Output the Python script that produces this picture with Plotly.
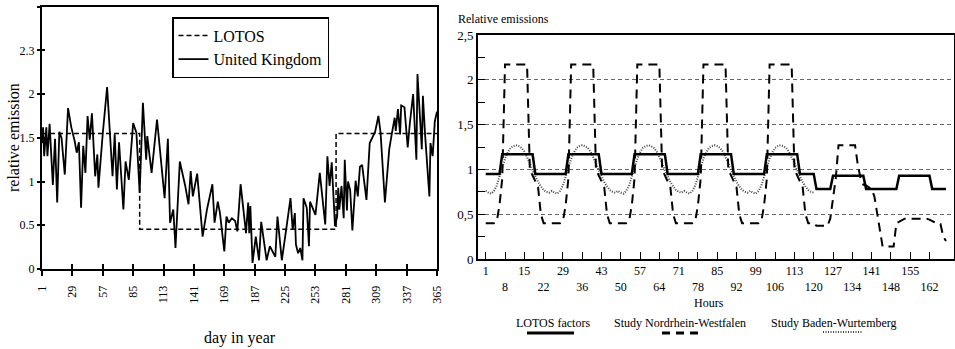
import plotly.graph_objects as go

W, H = 955, 349


def px(x):
    return x / W


def py(y):
    return 1 - y / H


SERIF = "Liberation Serif, Times New Roman, serif"

# ---------------- Left chart: day in year ----------------
uk_days = [1, 2, 3, 5, 6, 8, 11, 13, 15, 17, 19, 22, 25, 28, 31, 33, 35, 37, 39, 41,
           43, 45, 47, 50, 52, 53, 57, 61, 66, 68, 70, 72, 76, 78, 81, 85, 88, 91, 94, 97,
           98, 102, 107, 114, 117, 119, 122, 124, 128, 133, 136, 138, 140, 144, 149, 153, 158, 160, 163, 165,
           169, 171, 173, 176, 179, 181, 184, 189, 191, 192, 193, 195, 198, 201, 203, 208, 211, 216, 218, 222,
           226, 230, 232, 234, 235, 237, 239, 241, 242, 245, 247, 248, 253, 257, 262, 264, 266, 268, 271, 273,
           274, 275, 277, 279, 280, 282, 283, 285, 287, 290, 292, 294, 296, 300, 303, 308, 311, 313, 317, 321,
           323, 326, 327, 329, 331, 332, 335, 338, 340, 343, 346, 347, 351, 352, 354, 358, 359, 361, 363, 365]
uk_vals = [1.44, 1.62, 1.29, 1.62, 1.29, 1.66, 0.96, 1.49, 0.76, 1.57, 1.50, 1.08, 1.84, 1.62, 1.47, 1.33, 1.45, 0.70, 1.41, 1.10,
           1.75, 1.48, 1.78, 1.06, 1.31, 0.93, 1.55, 2.08, 1.06, 1.54, 0.91, 1.45, 0.68, 1.23, 1.02, 1.67, 1.56, 0.87, 1.90, 1.25,
           1.52, 1.10, 1.71, 0.81, 1.49, 0.53, 0.68, 0.24, 1.23, 0.95, 0.74, 1.12, 0.83, 1.09, 0.37, 0.68, 0.97, 0.53, 0.77, 0.64,
           0.20, 0.60, 0.53, 0.58, 0.55, 0.43, 0.97, 0.41, 0.76, 0.41, 0.72, 0.07, 0.37, 0.10, 0.54, 0.10, 0.26, 0.14, 0.60, 0.10,
           0.45, 0.81, 0.45, 0.64, 0.28, 0.18, 0.24, 0.10, 0.81, 0.70, 0.26, 0.77, 0.62, 1.10, 0.51, 1.29, 0.95, 1.22, 0.49, 0.60,
           0.93, 0.68, 0.95, 0.58, 1.25, 0.67, 1.00, 0.90, 0.44, 1.01, 0.83, 1.17, 1.19, 0.79, 1.44, 1.57, 1.75, 1.56, 0.76, 1.37,
           1.52, 1.73, 1.58, 1.83, 1.54, 1.87, 1.85, 1.39, 1.67, 2.00, 1.25, 2.23, 1.37, 1.98, 1.54, 0.83, 1.44, 1.29, 1.69, 1.80]

lotos_days = [1, 91, 272, 365]
lotos_vals = [1.55, 0.455, 1.55, 1.55]

day_ticks = [1, 29, 57, 85, 113, 141, 169, 187, 225, 253, 281, 309, 337, 365]
day_tick_pos = [1, 29, 57, 85, 113, 141, 169, 197, 225, 253, 281, 309, 337, 365]
rel_ticks = [0, 0.5, 1, 1.5, 2, 2.5, 3]
rel_labels = ["0", "0.5", "1", "1.5", "2", "2.3", "3"]

# ---------------- Right chart: hours of a week ----------------
hours = list(range(1, 169))

lotos_weekday = [0.95, 0.95, 0.95, 0.95, 0.95, 0.95, 1.17, 1.17, 1.17, 1.17, 1.17, 1.17,
                 1.17, 1.17, 1.17, 1.17, 1.17, 1.17, 0.95, 0.95, 0.95, 0.95, 0.95, 0.95]
lotos_weekend = [0.78, 0.78, 0.78, 0.78, 0.78, 0.78, 0.93, 0.93, 0.93, 0.93, 0.93, 0.93,
                 0.93, 0.93, 0.93, 0.93, 0.93, 0.93, 0.78, 0.78, 0.78, 0.78, 0.78, 0.78]

nrw_weekday = [0.40, 0.40, 0.40, 0.40, 0.42, 0.60, 0.90, 2.17, 2.17, 2.17, 2.17, 2.17,
               2.17, 2.17, 2.17, 2.17, 1.00, 0.93, 0.88, 0.80, 0.50, 0.40, 0.40, 0.40]
nrw_saturday = [0.37, 0.37, 0.37, 0.37, 0.37, 0.45, 0.70, 0.90, 1.27, 1.27, 1.27, 1.27,
                1.27, 1.27, 1.27, 1.05, 0.90, 0.83, 0.82, 0.80, 0.78, 0.70, 0.52, 0.30]
nrw_sunday = [0.14, 0.14, 0.14, 0.14, 0.14, 0.40, 0.42, 0.44, 0.45, 0.45, 0.45, 0.45,
              0.45, 0.45, 0.45, 0.45, 0.45, 0.44, 0.42, 0.40, 0.39, 0.39, 0.25, 0.20]

bw_weekday = [0.76, 0.74, 0.73, 0.76, 0.82, 0.92, 1.03, 1.12, 1.19, 1.24, 1.26, 1.27,
              1.26, 1.24, 1.20, 1.14, 1.07, 0.99, 0.92, 0.86, 0.81, 0.77, 0.75, 0.74]

lotos_week = lotos_weekday * 5 + lotos_weekend * 2
nrw_week = nrw_weekday * 5 + nrw_saturday + nrw_sunday
bw_week = bw_weekday * 5
bw_hours = hours[:len(bw_week)]

hour_ticks = list(range(1, 168, 7))
hour_labels = [str(h) if i % 2 == 0 else "<br>" + str(h) for i, h in enumerate(hour_ticks)]
emis_ticks = [0, 0.5, 1, 1.5, 2, 2.5]
emis_labels = ["0", "0,5", "1", "1,5", "2", "2,5"]

fig = go.Figure()

# left chart traces
fig.add_trace(go.Scatter(x=lotos_days, y=lotos_vals, mode="lines", name="LOTOS",
                         line=dict(color="black", width=1.5, dash="5px,3px", shape="hv"),
                         xaxis="x", yaxis="y"))
# drawn on the overlaid axes (same ranges) so the crossing inner tick marks are rendered
fig.add_trace(go.Scatter(x=uk_days, y=uk_vals, mode="lines", name="United Kingdom",
                         line=dict(color="black", width=1.8), xaxis="x3", yaxis="y3"))

# right chart traces
fig.add_trace(go.Scatter(x=bw_hours, y=bw_week, mode="lines", showlegend=False,
                         line=dict(color="#444444", width=2, dash="1px,1.5px"),
                         xaxis="x2", yaxis="y2"))
fig.add_trace(go.Scatter(x=hours, y=nrw_week, mode="lines", showlegend=False,
                         line=dict(color="black", width=2, dash="9px,6px"),
                         xaxis="x2", yaxis="y2"))
fig.add_trace(go.Scatter(x=hours, y=lotos_week, mode="lines", showlegend=False,
                         line=dict(color="black", width=2.5),
                         xaxis="x2", yaxis="y2"))

tickfont = dict(family=SERIF, size=12, color="black")

fig.update_layout(
    width=W, height=H,
    margin=dict(l=0, r=0, t=0, b=0),
    paper_bgcolor="white", plot_bgcolor="white",
    font=dict(family=SERIF, color="black"),
    xaxis=dict(domain=[px(42), px(437)], range=[1, 365], anchor="y",
               tickvals=day_tick_pos, ticktext=[str(d) for d in day_ticks],
               tickangle=-90, ticks="outside", ticklen=5, tickwidth=2, tickcolor="black",
               ticklabelstandoff=5, automargin=False,
               showline=True, linecolor="black", linewidth=2, mirror=True,
               showgrid=False, zeroline=False, tickfont=tickfont),
    yaxis=dict(domain=[py(269), py(6.7)], range=[0, 3], anchor="x",
               tickvals=rel_ticks, ticktext=rel_labels, automargin=False,
               ticks="outside", ticklen=3, tickwidth=1.5, tickcolor="black",
               showline=True, linecolor="black", linewidth=2, mirror=True,
               showgrid=False, zeroline=False, tickfont=tickfont),
    xaxis3=dict(overlaying="x", anchor="y", range=[1, 365], tickvals=day_tick_pos,
                showticklabels=False, ticks="inside", ticklen=5, tickwidth=2, tickcolor="black",
                showline=False, showgrid=False, zeroline=False, automargin=False),
    yaxis3=dict(overlaying="y", anchor="x", side="left", range=[0, 3], tickvals=rel_ticks,
                showticklabels=False, ticks="inside", ticklen=3, tickwidth=1.5, tickcolor="black",
                showline=False, showgrid=False, zeroline=False, automargin=False),
    xaxis2=dict(domain=[px(478), px(954)], range=[-1.8, 170.9], anchor="y2",
                tickvals=hour_ticks, ticktext=hour_labels, tickangle=0, automargin=False,
                ticks="inside", ticklen=7, tickwidth=1, tickcolor="black",
                showline=True, linecolor="black", linewidth=2, mirror=True,
                showgrid=False, zeroline=False, tickfont=tickfont),
    yaxis2=dict(domain=[py(259), py(35)], range=[0, 2.5], anchor="x2",
                tickvals=emis_ticks, ticktext=emis_labels, automargin=False,
                ticks="inside", ticklen=7, tickwidth=1, tickcolor="black",
                minor=dict(dtick=0.25, ticks="inside", ticklen=7, tickwidth=1,
                           tickcolor="black", showgrid=False),
                showline=True, linecolor="black", linewidth=2, mirror=True,
                showgrid=True, gridcolor="#666666", griddash="4px,3px", gridwidth=1,
                zeroline=False, tickfont=dict(family=SERIF, size=13, color="black")),
    legend=dict(x=px(172), y=py(17), xanchor="left", yanchor="top",
                bgcolor="white", bordercolor="black", borderwidth=1.5,
                font=dict(family=SERIF, size=16, color="black"),
                itemwidth=30, tracegroupgap=0),
    showlegend=True,
)


def note(text, x, y, size, angle=0, xanchor="center"):
    return dict(text=text, x=px(x), y=py(y), xref="paper", yref="paper",
                xanchor=xanchor, yanchor="middle", textangle=angle, showarrow=False,
                font=dict(family=SERIF, size=size, color="black"))


annotations = [
    note("relative emission", 13, 138, 16, angle=-90),
    note("day in year", 240, 338, 16),
    note("Relative emissions", 456, 19, 12, xanchor="left"),
    note("Hours", 709, 303, 12),
    note("LOTOS factors", 553, 323, 12),
    note("Study Nordrhein-Westfalen", 680, 323, 12),
    note("Study Baden-Wurtemberg", 834, 323, 12),
]
fig.update_layout(annotations=annotations)

shapes = [
    dict(type="line", xref="paper", yref="paper", x0=px(527), x1=px(574), y0=py(333), y1=py(333),
         line=dict(color="black", width=3)),
    dict(type="line", xref="paper", yref="paper", x0=px(662), x1=px(704), y0=py(333), y1=py(333),
         line=dict(color="black", width=3, dash="8px,6px")),
    dict(type="line", xref="paper", yref="paper", x0=px(823), x1=px(862), y0=py(332), y1=py(332),
         line=dict(color="#444444", width=2, dash="1px,1.5px")),
]
fig.update_layout(shapes=shapes)

fig.write_html("out.html")
